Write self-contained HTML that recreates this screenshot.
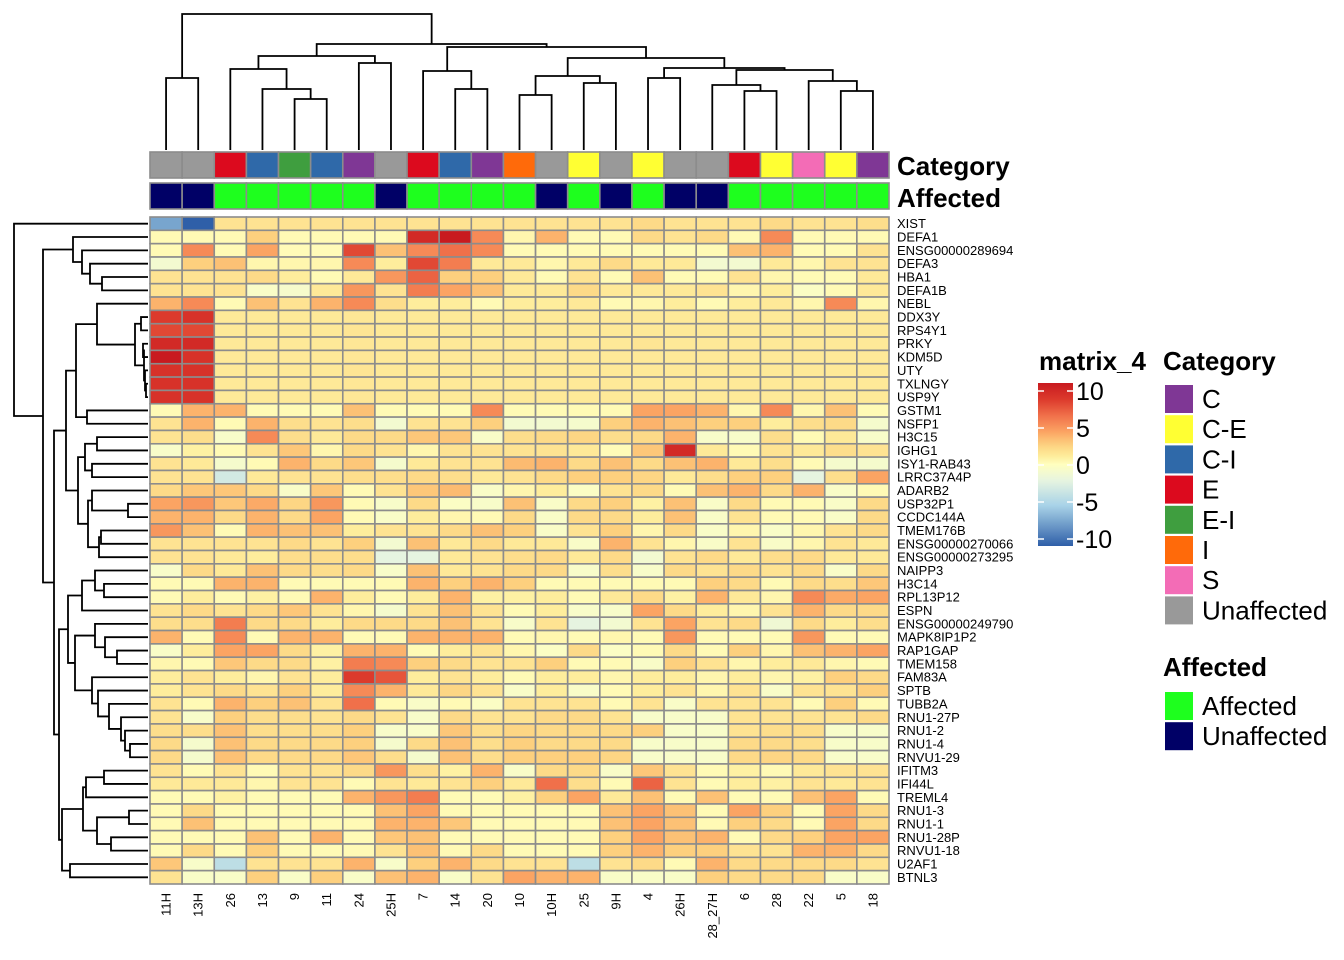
<!DOCTYPE html>
<html><head><meta charset="utf-8"><style>
html,body{margin:0;padding:0;background:#fff;}
svg{display:block;font-family:"Liberation Sans",Arial,sans-serif;}
</style></head><body>
<svg id="chart" width="1344" height="960" viewBox="0 0 1344 960">
<g id="coldendro"></g>
<g id="rowdendro"></g>
<g id="annot"></g>
<g id="cells"></g>
<g id="rlabels"></g>
<g id="clabels"></g>
<text x="897" y="175" font-size="26" font-weight="bold">Category</text>
<text x="897" y="207" font-size="26" font-weight="bold">Affected</text>
<g id="legend">
<text x="1039" y="370" font-size="26" font-weight="bold">matrix_4</text>
<defs><linearGradient id="grad" x1="0" y1="0" x2="0" y2="1"></linearGradient></defs>
<rect x="1038" y="383" width="35" height="163" fill="url(#grad)"/>
<g id="cbticks"></g>
<text x="1163" y="370" font-size="26" font-weight="bold">Category</text>
<g id="catleg"></g>
<text x="1163" y="676" font-size="26" font-weight="bold">Affected</text>
<g id="affleg"></g>
</g>
</svg>
<script>
const colLabels=["11H","13H","26","13","9","11","24","25H","7","14","20","10","10H","25","9H","4","26H","28_27H","6","28","22","5","18"];
const rowLabels=["XIST","DEFA1","ENSG00000289694","DEFA3","HBA1","DEFA1B","NEBL","DDX3Y","RPS4Y1","PRKY","KDM5D","UTY","TXLNGY","USP9Y","GSTM1","NSFP1","H3C15","IGHG1","ISY1-RAB43","LRRC37A4P","ADARB2","USP32P1","CCDC144A","TMEM176B","ENSG00000270066","ENSG00000273295","NAIPP3","H3C14","RPL13P12","ESPN","ENSG00000249790","MAPK8IP1P2","RAP1GAP","TMEM158","FAM83A","SPTB","TUBB2A","RNU1-27P","RNU1-2","RNU1-4","RNVU1-29","IFITM3","IFI44L","TREML4","RNU1-3","RNU1-1","RNU1-28P","RNVU1-18","U2AF1","BTNL3"];
const colCategory=["Unaffected","Unaffected","E","C-I","E-I","C-I","C","Unaffected","E","C-I","C","I","Unaffected","C-E","Unaffected","C-E","Unaffected","Unaffected","E","C-E","S","C-E","C"];
const colAffected=["Unaffected","Unaffected","Affected","Affected","Affected","Affected","Affected","Unaffected","Affected","Affected","Affected","Affected","Unaffected","Affected","Unaffected","Affected","Unaffected","Unaffected","Affected","Affected","Affected","Affected","Affected"];
const categoryNames=["C","C-E","C-I","E","E-I","I","S","Unaffected"];
const categoryColors=["#7f3795","#ffff33","#2f69a9","#dc0a1e","#3f9e3f","#ff6a0a","#f36cb6","#999999"];
const affectedNames=["Affected","Unaffected"];
const affectedColors=["#1eff1e","#000066"];
const legendTicks=[10,5,0,-5,-10];
const values=[
[-7,-10,1.5,1.5,1.5,1.5,1.5,1.5,1.5,1.5,1.5,1.5,1.5,1.5,1.5,2,1.5,1.5,1.5,2,1.5,1.5,1.8],
[0.3,0.3,0.3,2.5,0.3,0.3,0.3,0.3,9,10,5,0.5,3.5,0.3,0.3,2,1.5,2,0.3,5,0.3,0.3,0.3],
[0.3,5,0.3,4,0.2,0.2,7.5,3,5,6,5,0.3,0.3,0.3,0.3,0.3,0.3,0.3,3,3.5,0.3,0.3,1.5],
[-1,2.5,3,0.5,0.5,0.5,5,1,7.5,5.5,1.2,1.2,0.5,1.2,2,1.2,1.2,-1,-1,1.2,0.5,1.5,1.5],
[1.5,1.5,1.5,2,1,0.3,1.2,4.5,6.5,2.5,2.5,1.2,0.3,1.5,0.3,3,0.3,0.3,1.5,0.5,0.3,0.3,1.2],
[1.5,1.5,1.5,-0.5,-0.7,1.2,4.5,1.5,5.5,4,3,1.2,1.2,2,1.2,1.2,1.2,1.5,0.5,1,-0.3,0.3,1.2],
[3.5,5,0.3,3,1.5,3.5,5,1.8,1,1,0.3,1,1,1.2,0.3,0.5,1,0.3,1,1.2,0.5,5,0.5],
[8,8.5,1.2,1.2,1.2,1.2,1.3,1.2,1.2,1.2,1.2,1.2,1.2,1.2,1.2,1.2,1.2,1.2,1.2,1.2,1.2,1.2,1.2],
[7.5,7.5,1.2,1.2,1.2,1.2,1.4,1.2,1.2,1.2,1.2,1.2,1.2,1.2,1.2,1.2,1.2,1.2,1.2,1.2,1.2,1.2,1.2],
[9,9,1.2,1.2,1.2,1.2,1.3,1.2,1.2,1.2,1.2,1.2,1.2,1.2,1.2,1.4,1.2,1.2,1.2,1.2,1.2,1.2,1.2],
[10,8.5,1.2,1.2,1.2,1.2,1.3,1.2,1.2,1.2,1.2,1.2,1.2,1.2,1.2,1.2,1.2,1.2,1.2,1.2,1.2,1.2,1.2],
[8.5,8.5,1.2,1.2,1.2,1.2,1.4,1.2,1.2,1.2,1.2,1.2,1.2,1.2,1.2,1.2,1.2,1.2,1.2,1.2,1.2,1.2,1.2],
[8.5,8.5,1.2,1.2,1.2,1.2,1.3,1.2,1.2,1.2,1.2,1.2,1.2,1.2,1.2,1.2,1.2,1.2,1.2,1.2,1.2,1.2,1.2],
[8.5,8.5,1.2,1.2,1.2,1.2,1.3,1.2,1.2,1.2,1.2,1.2,1.2,1.2,1.2,1.2,1.2,1.2,1.2,1.2,1.2,1.2,1.2],
[0.3,3.5,3.5,0.3,0.3,0.3,3,0.3,0.3,0.3,5,0.3,0.3,0.3,0.3,4,4,3.5,0.5,5,0.5,3,0.3],
[1.5,3.5,0.3,3.5,1.8,1.5,1.8,-1,1.5,1.5,2.5,-1,-1,-0.8,2.5,3.5,3,2.5,2.5,1,1.8,2,-0.8],
[1.5,1.8,-0.6,5,1.8,1.2,2,2,2.8,2.8,-0.5,1.8,2,2.2,1.8,2,3.5,-0.6,-0.6,1.8,0.3,1.2,-0.6],
[-0.6,0.8,0.3,1.5,2.8,0.5,2,1.5,0.5,1.5,1.5,1.5,1.5,1.2,0.2,2.8,9,1.2,0.3,1.5,1.2,1.8,1.5],
[1.5,1.2,-0.8,0.3,3.5,2,2.8,-0.8,1.2,1.5,1.5,3.2,3.5,2,3,2,3,3.5,1.2,1.8,0.3,-0.8,-0.8],
[1.5,1.5,-3,1.2,1.5,1.5,1.8,1.8,2,1.8,1.2,1.5,2,2.5,2.5,2.2,1.2,1.8,2.5,2.5,-2,1.8,4],
[2,2.8,2.8,2,-0.5,2.8,0.3,1.5,2.8,3.2,-0.5,0.5,1,-0.3,1.5,2,0.3,3,3.5,2,3.5,-0.5,0.3],
[4,4.5,2.8,3.8,2.2,4.5,0.3,-0.6,2,-0.3,-0.6,3,-0.5,2,2.5,0.8,3,-0.5,2,0.3,0.3,-0.5,2],
[3.5,3.5,2,3.5,2,4,0.3,-0.5,1,0.5,0.3,2,-0.5,2,2,1,3,-0.5,1.5,0.3,0.3,-0.5,2],
[4.5,3,0.3,3.5,3,3,1,1.5,1.5,2,3,2.5,-0.5,1.5,2.5,0.5,2,-0.5,0.5,-0.5,0.5,1.5,2],
[1.5,1.5,1.5,1.5,2,1.5,2.5,-1,3,1.2,2,1.2,1.2,-0.5,3.5,1.5,0.5,-0.5,1.5,-0.5,0.5,1.5,1.2],
[1.5,1.5,1.2,1,1.8,1.8,1.8,-2,-2,1.2,1.5,1.8,2,1.2,2,-1,1.5,2,1.2,1.8,2,1.2,1.2],
[-0.6,2,1.2,3,2,1.8,2,-0.6,3,1.2,1.5,2,2,-0.6,1.8,-0.6,2,1.5,2,1.5,2,-0.5,2],
[0.3,0.3,3.5,3.5,0.3,0.3,0.3,0.3,3.5,2.5,3.5,2.5,0.3,0.3,0.3,0.3,0.3,2.5,2,0.3,2,1.8,2.8],
[0.3,1,0.3,0.8,0.3,3.5,1,0.3,1,3.5,0.8,0.8,1,0.3,1.2,2,0.8,3.5,1.2,0.5,5,3.8,4],
[1.5,2,1.5,2,2.8,1.5,0.5,-0.8,1.5,3,1.5,0.3,1,-0.6,-0.6,4,2,1,0.5,1.5,3.5,2,2],
[1.8,1.8,5.5,2,2,1,2,2,2,3,1.5,-0.6,1.5,-2,-1,1.5,4,1.5,2,-1.2,2,1,1.8],
[3.5,0.3,5,0.3,3.5,3.5,0.3,0.3,3.5,3.5,3.5,0.3,0.5,0.3,0.5,0.3,4.5,0.3,0.3,0.3,4.5,0.3,0.3],
[-0.5,1,4,4,2,0.8,3.5,3.5,0.3,1,1.5,0.5,-0.3,2,-0.3,0.3,2,0.3,2.5,0.5,3,3.5,4],
[0.5,0.3,2.8,2,2,0.8,5.5,5,2.5,2,1.5,1.5,2.5,0.3,0.3,-0.5,2.5,1.5,0.5,1,1.2,0.5,0.3],
[1,1.5,1,0.5,1.5,1,8,7,1,1.5,1,0.3,1,1,0.5,1,1,0.5,1,0.5,0.8,2.5,2],
[1,1.5,2,1.5,2.5,1,5,3.5,1.2,2.2,1.5,-0.5,1,-0.5,0.3,1,1.5,0.5,1.5,-0.5,1.5,1.5,2.5],
[1.5,0.3,3.5,2.5,3,1.5,6,0.3,-0.5,0.3,-0.3,1.5,1.5,1.5,0.3,1.5,-0.5,1.5,1.5,1.5,0.3,2.5,0.3],
[1.5,-0.6,2.5,1.8,1.8,1.5,2,1.5,-0.6,2,1.5,1.5,2,2,1.5,-0.6,-0.6,-0.6,1.5,1.5,1.5,1.5,2],
[1.8,1.8,3,1.8,1.8,1.8,2.5,-0.6,-0.6,2.8,1.8,2.2,2,2,2,2.5,-0.6,-0.6,1.5,1.8,1.8,-0.6,-0.6],
[2,-0.8,3,2,2,2,2.5,-0.8,2,3,1.8,2.5,2,2,2,-0.6,-0.6,-0.6,2,2,1.8,-0.6,-0.6],
[2,-0.8,3,2,2,2,2.8,1.8,-0.8,3,1.8,2.5,2.5,2.5,2.2,-0.6,-0.6,-0.6,2,2.2,2,-0.6,-0.6],
[1.5,0.3,1.5,0.3,1.5,1.5,2,4.5,1.8,0.8,3.5,-0.5,2,2,-0.5,2.8,1.5,0.3,0.8,0.3,1.2,1.5,1.5],
[1.2,1.2,1.2,0.5,1.5,1.5,0.3,1.5,1.2,1.5,2.5,1.2,6,1.8,0.3,6.5,1.5,0.3,1,0.8,1.5,1.2,1.5],
[0.3,0.3,0.8,0.3,0.3,0.3,3.5,4.5,5.5,0.3,0.3,0.8,2.5,4,1.2,3,0.3,3,0.3,0.3,3,4,0.3],
[0.3,2,0.3,0.3,0.3,0.3,0.3,3,4,0.3,0.3,0.3,0.3,0.3,3,4,3,0.3,4,2.5,0.3,4,2],
[0.3,3,0.3,0.3,0.3,0.3,0.3,3.5,3.5,2.8,0.3,0.3,0.3,0.3,3,4,3,0.3,2.5,2,0.3,4,2],
[0.3,0.3,0.3,3,0.3,3.5,0.3,2.8,3,0.3,0.3,0.3,0.3,0.3,2.5,4,3,3.5,0.3,2,2.5,4,4],
[0.3,2,0.3,2.5,0.3,0.3,0.3,1.5,3,0.3,2,0.3,0.3,0.3,2.5,3.5,2.5,2.5,1.5,1.5,3.5,3.5,2],
[2.8,-0.6,-4,1.5,1.5,1.5,3.5,-0.6,2.5,3.5,2,1.5,1.5,-4,1.5,2,0.3,3.5,2,2,2,2,1.5],
[1.5,-0.5,-0.5,2.5,-0.5,2.5,-0.5,3,3.5,-0.5,1.5,4,3.5,3.5,-0.5,-0.5,-0.5,2.5,2,2,2,-0.5,-0.5]
];
const colTree=[14,[78,0,1],[44,[56,[69,2,[89,3,[99,4,5]]],[63,6,7]],[47,[71,8,[89,9,10]],[58,[76,[95,11,12],[83,13,14]],[68,[78,15,16],[70,[85,17,[91,18,19]],[81,20,[91,21,22]]]]]]]];
const rowTree=[14,0,[43,[73,1,[82,2,[90,3,[102,4,5]]]],[54,[66,[76,[97,6,[135,[141,7,8],[144,[143,9,10],[145,11,[146,12,13]]]]],[87,14,15]],[78,[85,[97,16,17],[92,18,19]],[88,[92,20,[128,21,22]],[99,[101,23,24],25]]]],[59,[68,[82,[95,26,[104,27,28]],29],[75,[95,30,[105,31,[117,32,33]]],[92,34,[98,35,[109,36,[121,37,[125,38,[130,39,40]]]]]]]],[62,[83,[86,[104,41,42],43],[97,[129,44,45],[111,46,47]]],[70,48,49]]]]]];

const NS="http://www.w3.org/2000/svg";
const X0=150,X1=889,Y0=217,Y1=884;
const CW=(X1-X0)/colLabels.length, RH=(Y1-Y0)/rowLabels.length;
const stops=[[-10,[47,95,168]],[-5,[169,211,232]],[-2,[230,244,224]],[0,[255,255,191]],[1,[254,237,156]],[2.5,[253,208,126]],[4,[251,164,99]],[6,[240,112,74]],[8,[220,58,44]],[10,[200,26,31]]];
function color(v){v=Math.max(-10,Math.min(10,v));for(let i=0;i<stops.length-1;i++){const a=stops[i],b=stops[i+1];if(v<=b[0]){const t=(v-a[0])/(b[0]-a[0]);const c=a[1].map((x,k)=>Math.round(x+(b[1][k]-x)*t));return `rgb(${c.join(',')})`;}}return 'rgb(200,26,31)';}
function xCol(i){return X0+CW*(i+0.5);}
function yRow(i){return Y0+RH*(i+0.5);}
function mk(tag,attrs,parent){const e=document.createElementNS(NS,tag);for(const k in attrs)e.setAttribute(k,attrs[k]);parent.appendChild(e);return e;}

const cells=document.getElementById('cells');
values.forEach((row,r)=>row.forEach((v,c)=>{
  const e=mk('rect',{x:X0+CW*c,y:Y0+RH*r,width:CW,height:RH,fill:color(v),stroke:'#8c8c8c','stroke-width':1.6},cells);
  
  
}));
const annot=document.getElementById('annot');
colCategory.forEach((c,i)=>{
  const e=mk('rect',{x:X0+CW*i,y:152,width:CW,height:26,fill:categoryColors[categoryNames.indexOf(c)],stroke:'#8c8c8c','stroke-width':1.6},annot);
  
  
});
colAffected.forEach((c,i)=>{
  const e=mk('rect',{x:X0+CW*i,y:183,width:CW,height:26,fill:affectedColors[affectedNames.indexOf(c)],stroke:'#8c8c8c','stroke-width':1.6},annot);
  
  
});
const rl=document.getElementById('rlabels');
rowLabels.forEach((l,i)=>{
  const e=mk('text',{x:897,y:yRow(i)+4.5,'font-size':13,fill:'#000'},rl);e.textContent=l;
  
  
});
const cl=document.getElementById('clabels');
colLabels.forEach((l,i)=>{
  const x=xCol(i)+4.5;
  const e=mk('text',{x:x,y:893,'font-size':13,'text-anchor':'end',transform:`rotate(-90 ${x} 893)`},cl);e.textContent=l;
  
  
});
function drawCol(node,g){
  if(typeof node==='number')return {x:xCol(node),y:150};
  const a=drawCol(node[1],g),b=drawCol(node[2],g),h=node[0];
  mk('path',{d:`M${a.x},${a.y}V${h}H${b.x}V${b.y}`,fill:'none',stroke:'#000','stroke-width':1.8},g);
  return {x:(a.x+b.x)/2,y:h};
}
function drawRow(node,g){
  if(typeof node==='number')return {x:148,y:yRow(node)};
  const a=drawRow(node[1],g),b=drawRow(node[2],g),h=node[0];
  mk('path',{d:`M${a.x},${a.y}H${h}V${b.y}H${b.x}`,fill:'none',stroke:'#000','stroke-width':1.8},g);
  return {x:h,y:(a.y+b.y)/2};
}
drawCol(colTree,document.getElementById('coldendro'));
drawRow(rowTree,document.getElementById('rowdendro'));
const grad=document.getElementById('grad');
for(let i=0;i<=20;i++){const v=10-i;mk('stop',{offset:(i/20),'stop-color':color(v)},grad);}
const cb=document.getElementById('cbticks');
legendTicks.forEach(t=>{
  const y=391+(10-t)*7.4;
  mk('line',{x1:1038,x2:1044,y1:y,y2:y,stroke:'#fff','stroke-width':1.5},cb);
  mk('line',{x1:1067,x2:1073,y1:y,y2:y,stroke:'#fff','stroke-width':1.5},cb);
  const e=mk('text',{x:1076,y:y+9,'font-size':25},cb);e.textContent=t;
  
  
});
const cg=document.getElementById('catleg');
categoryNames.forEach((n,i)=>{
  const y=385+i*30.2;
  mk('rect',{x:1165,y:y,width:28,height:28,fill:categoryColors[i]},cg);
  const e=mk('text',{x:1202,y:y+23,'font-size':26},cg);e.textContent=n;
  
  
});
const ag=document.getElementById('affleg');
affectedNames.forEach((n,i)=>{
  const y=692+i*30.2;
  mk('rect',{x:1165,y:y,width:28,height:28,fill:affectedColors[i]},ag);
  const e=mk('text',{x:1202,y:y+23,'font-size':26},ag);e.textContent=n;
  
  
});
</script>
</body></html>
